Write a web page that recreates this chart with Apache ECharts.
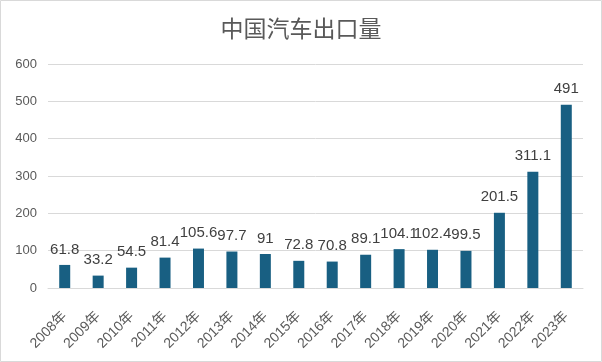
<!DOCTYPE html>
<html><head><meta charset="utf-8">
<script src="https://cdn.jsdelivr.net/npm/echarts@6/dist/echarts.min.js"></script>
<style>html,body{margin:0;padding:0;background:#fff}#c{width:602px;height:362px}</style>
</head><body><div id="c"></div>
<script>
const years = ['2008年','2009年','2010年','2011年','2012年','2013年','2014年','2015年','2016年','2017年','2018年','2019年','2020年','2021年','2022年','2023年'];
const exports = [61.8,33.2,54.5,81.4,105.6,97.7,91,72.8,70.8,89.1,104.1,102.4,99.5,201.5,311.1,491];
const chart = echarts.init(document.getElementById('c'));
chart.setOption({
  animation:false,
  graphic:[{type:'rect',shape:{x:0.5,y:0.5,width:601,height:361},style:{fill:'none',stroke:'#d9d9d9',lineWidth:1},silent:true}],
  title:{text:'中国汽车出口量',left:'center',top:12,textStyle:{fontFamily:'Noto Sans CJK SC',fontSize:23,fontWeight:'normal',color:'#595959'}},
  grid:{left:48,right:19,top:64,bottom:74},
  xAxis:{type:'category',data:years,axisLine:{lineStyle:{color:'#d9d9d9'}},axisTick:{show:false},
    axisLabel:{rotate:45,interval:0,margin:26,color:'#595959',fontSize:14,fontFamily:'Liberation Sans, Noto Sans CJK SC'}},
  yAxis:{type:'value',min:0,max:600,interval:100,axisLine:{show:false},axisTick:{show:false},
    splitLine:{lineStyle:{color:'#d9d9d9'}},
    axisLabel:{margin:11,color:'#595959',fontSize:13,fontFamily:'Liberation Sans'}},
  series:[{type:'bar',data:exports,barWidth:11,itemStyle:{color:'#185f82'},
    label:{show:true,position:'top',distance:8,color:'#404040',fontSize:15,fontFamily:'Liberation Sans'}}]
});
</script></body></html>
